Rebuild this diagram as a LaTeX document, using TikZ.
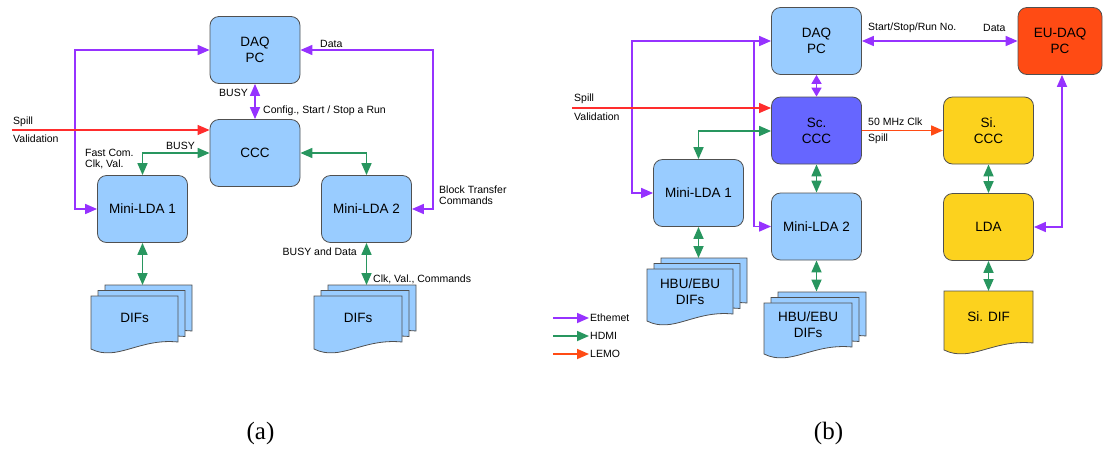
\documentclass[tikz,border=0pt]{standalone}
\usepackage{fontspec}
\setmainfont{Liberation Sans}
\newfontfamily\capfont{Liberation Serif}
\usetikzlibrary{arrows.meta, positioning, calc}

\definecolor{ethcol}{RGB}{150, 50, 255}
\definecolor{hdmicol}{RGB}{40, 150, 95}
\definecolor{spillred}{RGB}{255, 45, 45}
\definecolor{lemocol}{RGB}{255, 75, 20}
\definecolor{boxblue}{RGB}{153, 204, 255}
\definecolor{scblue}{RGB}{102, 102, 255}
\definecolor{siyellow}{RGB}{252, 210, 30}
\definecolor{eured}{RGB}{255, 75, 20}
\definecolor{edgegray}{RGB}{80, 80, 80}

% one sheet with a wavy bottom: fill, left x, top y, width, height
\newcommand{\docsheet}[5]{%
  \draw[sheet, fill=#1] (#2,#3) -- ({#2+#4},#3) -- ({#2+#4},{#3+#5-7})
    .. controls ({#2+0.55*#4},{#3+#5-11}) and ({#2+0.3*#4},{#3+#5+13}) .. (#2,{#3+#5}) -- cycle;}
% three sheets, given the front one
\newcommand{\docstack}[5]{%
  \docsheet{#1}{#2+14}{#3-11}{#4}{#5}
  \docsheet{#1}{#2+7}{#3-5.5}{#4}{#5}
  \docsheet{#1}{#2}{#3}{#4}{#5}}

\begin{document}
\begin{tikzpicture}[
  x=1pt, y=-1pt,
  >={Triangle[length=12pt, width=10pt]},
  blk/.style={draw=edgegray, line width=0.8pt, rounded corners=9pt, fill=boxblue,
    minimum width=90pt, minimum height=67pt, align=center, inner sep=2pt,
    font=\fontsize{13.5}{16}\selectfont},
  sheet/.style={draw=edgegray, line width=0.8pt},
  doctext/.style={align=center, inner sep=0pt, font=\fontsize{13.5}{16}\selectfont},
  lbl/.style={inner sep=1pt, font=\fontsize{10.5}{12}\selectfont, align=left},
  eth/.style={draw=ethcol, line width=1.7pt, ethcol},
  hdmi/.style={draw=hdmicol, line width=1.7pt, hdmicol},
  spill/.style={draw=spillred, line width=1.2pt, spillred},
  lemo/.style={draw=lemocol, line width=1.7pt, lemocol},
  captext/.style={font=\capfont\fontsize{25}{28}\selectfont}
]
  \useasboundingbox (0,0) rectangle (1103,448);

  % ---------- (a) ----------
  \node[blk] (daqA) at (255,50) {DAQ\\PC};
  \node[blk] (cccA) at (255,153) {CCC};
  \node[blk] (lda1A) at (142.5,209) {Mini-LDA 1};
  \node[blk] (lda2A) at (366.5,209) {Mini-LDA 2};

  \docstack{boxblue}{91}{296}{87}{53}
  \node[doctext] (difsA) at (134.5,318) {DIFs};
  \coordinate (difsAtop) at (142.5,285);
  \docstack{boxblue}{314}{296}{88}{53}
  \node[doctext] (difsB) at (358,318) {DIFs};
  \coordinate (difsBtop) at (366.5,285);

  \coordinate (spillA) at (12,130);
  \coordinate (ethA) at (75,50);
  \coordinate (dataA) at (433,50);
  \coordinate (fastA) at (142.5,153);
  \coordinate (busyA) at (366.5,153);

  \draw[eth, <->] (daqA.west) -- (ethA) |- (lda1A.west);
  \draw[eth, <->] (daqA) -- (cccA);
  \draw[eth, <->] (daqA.east) -- (dataA) |- (lda2A.east);
  \draw[spill, ->] (spillA) -- (spillA -| cccA.west);
  \draw[hdmi, <->] (cccA.west) -- (fastA) -- (lda1A.north);
  \draw[hdmi, <->] (cccA.east) -- (busyA) -- (lda2A.north);
  \draw[hdmi, <->] (lda1A.south) -- (difsAtop);
  \draw[hdmi, <->] (lda2A.south) -- (difsBtop);

  \node[lbl, anchor=east] (busyA1) at (249,93) {BUSY};
  \node[lbl, anchor=west] (cfgA) at (262,111) {Config., Start / Stop a Run};
  \node[lbl, anchor=west] (spA) at (12,122) {Spill};
  \node[lbl, anchor=west] (valA) at (12,139) {Validation};
  \node[lbl, anchor=west] (busyA2) at (165,146) {BUSY};
  \node[lbl, anchor=west] (fastcA) at (84,159) {Fast Com.\\[-1pt]Clk, Val.};
  \node[lbl, anchor=west] (dataLA) at (319,44) {Data};
  \node[lbl, anchor=west] (btA) at (438,195) {Block Transfer\\[-1pt]Commands};
  \node[lbl, anchor=east] (bdA) at (358,252) {BUSY and Data};
  \node[lbl, anchor=west] (cvA) at (372,279) {Clk, Val., Commands};

  % ---------- (b) ----------
  \node[blk] (daqB) at (816.5,41) {DAQ\\PC};
  \node[blk, fill=eured, minimum width=84pt] (eudaq) at (1060,41) {EU-DAQ\\PC};
  \node[blk, fill=scblue] (scccB) at (816.5,130.5) {Sc.\\CCC};
  \node[blk, fill=siyellow] (siccc) at (988.5,130.5) {Si.\\CCC};
  \node[blk, fill=siyellow] (lda) at (988.5,227) {LDA};
  \node[blk] (lda1B) at (698.5,193) {Mini-LDA 1};
  \node[blk] (lda2B) at (816.5,226.5) {Mini-LDA 2};

  \docstack{boxblue}{647}{269}{86}{52}
  \node[doctext] (hbuA) at (690,291.5) {HBU/EBU\\DIFs};
  \coordinate (hbuAtop) at (698.5,258);
  \docstack{boxblue}{764}{303}{88}{51}
  \node[doctext] (hbuB) at (808,325) {HBU/EBU\\DIFs};
  \coordinate (hbuBtop) at (816.5,291.5);
  \docsheet{siyellow}{944}{291}{89}{59}
  \node[doctext] (sidif) at (988.5,317) {Si. DIF};
  \coordinate (sidiftop) at (988.5,291);

  \coordinate (spillB) at (572,108);
  \coordinate (ethB) at (632,41);
  \coordinate (ethB2) at (754,41);
  \coordinate (fastB) at (698.5,131);
  \coordinate (euB) at (1062,227);

  \draw[eth, <->] (daqB.west) -- (ethB) |- (lda1B.west);
  \draw[eth, ->] (ethB2) |- (lda2B.west);
  \draw[eth, <->, >={Triangle[length=9pt, width=10pt]}] (daqB) -- (scccB);
  \draw[eth, <->] (daqB.east) -- (eudaq.west);
  \draw[eth, <->] (eudaq.south -| euB) -- (euB) -- (lda.east);
  \draw[spill, ->] (spillB) -- (spillB -| scccB.west);
  \draw[hdmi, <->] (scccB.west |- fastB) -- (fastB) -- (lda1B.north);
  \draw[hdmi, <->] (scccB) -- (lda2B);
  \draw[lemo, ->] (scccB) -- (siccc);
  \draw[hdmi, <->] (siccc) -- (lda);
  \draw[hdmi, <->] (lda.south) -- (sidiftop);
  \draw[hdmi, <->] (lda1B.south) -- (hbuAtop);
  \draw[hdmi, <->] (lda2B.south) -- (hbuBtop);

  \node[lbl, anchor=west] (ssB) at (867,28) {Start/Stop/Run No.};
  \node[lbl, anchor=west] (dataB) at (982,28) {Data};
  \node[lbl, anchor=west] (spB) at (573,99) {Spill};
  \node[lbl, anchor=west] (valB) at (573,117) {Validation};
  \node[lbl, anchor=west] (clkB) at (867,122) {50 MHz Clk};
  \node[lbl, anchor=west] (spB2) at (867,139) {Spill};

  % legend
  \coordinate (legE) at (553,318);
  \coordinate (legH) at (553,336);
  \coordinate (legL) at (553,354);
  \node[lbl, anchor=west] (legEt) at (589,318) {Ethemet};
  \node[lbl, anchor=west] (legHt) at (589,336) {HDMI};
  \node[lbl, anchor=west] (legLt) at (589,354) {LEMO};
  \draw[eth, ->] (legE) -- (legEt.west);
  \draw[hdmi, ->] (legH) -- (legHt.west);
  \draw[lemo, ->] (legL) -- (legLt.west);

  % captions
  \node[captext] (capA) at (260.5,433) {(a)};
  \node[captext] (capB) at (828.5,433) {(b)};
\end{tikzpicture}
\end{document}
